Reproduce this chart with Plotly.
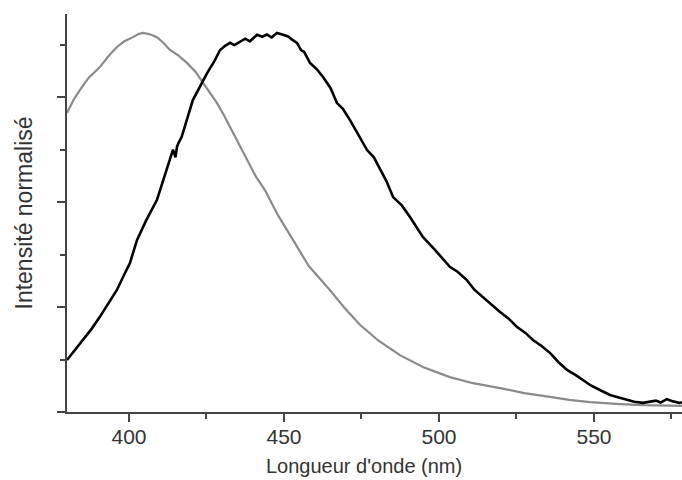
import plotly.graph_objects as go

# gray spectrum (wavelength nm, normalised intensity)
gray_nm = [380.0, 382.0, 384.2, 387.0, 390.6, 393.5, 396.1, 398.5, 401.3, 403.0, 404.5, 406.5,
           409.0, 411.0, 413.2, 416.0, 418.7, 421.5, 423.9, 426.0, 428.4, 430.5, 432.6, 435.5,
           438.1, 441.0, 443.9, 448.0, 452.9, 458.0, 464.8, 469.5, 474.5, 480.5, 487.4, 495.0,
           503.5, 511.0, 519.7, 527.5, 535.8, 542.0, 548.7, 553.5, 558.4, 566.0, 572.0, 578.4]
gray_int = [0.789, 0.822, 0.850, 0.882, 0.910, 0.940, 0.963, 0.978, 0.989, 0.997, 1.000, 0.997,
            0.989, 0.975, 0.955, 0.940, 0.921, 0.897, 0.868, 0.843, 0.815, 0.785, 0.752, 0.708,
            0.665, 0.620, 0.585, 0.520, 0.454, 0.385, 0.322, 0.275, 0.230, 0.188, 0.150, 0.118,
            0.092, 0.076, 0.063, 0.050, 0.040, 0.032, 0.026, 0.023, 0.021, 0.018, 0.017, 0.016]

# black spectrum
black_nm = [380.0, 382.5, 385.2, 388.0, 390.6, 393.3, 396.1, 398.2, 400.3, 402.6, 405.5, 409.0,
            411.5, 414.2, 415.0, 415.5, 416.0, 417.0, 420.6, 423.0, 425.2, 427.5, 429.4, 431.0,
            432.6, 434.0, 435.8, 437.5, 439.0, 441.3, 443.0, 444.5, 446.0, 447.7, 449.7, 451.5,
            452.5, 454.2, 455.5, 456.5, 458.4, 460.5, 462.6, 465.0, 467.1, 469.0, 471.3, 474.0,
            476.8, 479.0, 481.0, 483.0, 485.2, 488.0, 490.6, 492.5, 494.8, 499.0, 503.5, 506.0,
            509.0, 511.5, 514.2, 517.0, 519.7, 522.5, 525.2, 528.0, 530.3, 533.0, 535.8, 538.5,
            541.3, 544.0, 546.5, 549.0, 551.9, 553.5, 555.2, 558.0, 560.6, 563.0, 565.8, 568.0,
            570.0, 571.5, 573.5, 575.5, 577.7, 578.4]
black_int = [0.137, 0.162, 0.190, 0.220, 0.251, 0.285, 0.322, 0.358, 0.393, 0.454, 0.505, 0.559,
             0.625, 0.692, 0.672, 0.700, 0.710, 0.726, 0.823, 0.860, 0.894, 0.925, 0.955, 0.966,
             0.974, 0.968, 0.976, 0.985, 0.978, 0.995, 0.990, 0.996, 0.988, 1.000, 0.995, 0.990,
             0.983, 0.974, 0.955, 0.950, 0.921, 0.905, 0.884, 0.855, 0.815, 0.800, 0.770, 0.730,
             0.691, 0.672, 0.639, 0.610, 0.567, 0.545, 0.515, 0.490, 0.462, 0.425, 0.383, 0.370,
             0.348, 0.322, 0.303, 0.282, 0.264, 0.246, 0.224, 0.208, 0.190, 0.175, 0.156, 0.132,
             0.111, 0.098, 0.084, 0.070, 0.058, 0.052, 0.045, 0.038, 0.032, 0.027, 0.024, 0.027,
             0.030, 0.025, 0.034, 0.028, 0.024, 0.026]

AXIS = '#444444'
TEXT = '#333333'
FONT = 'Liberation Sans, Arial, sans-serif'

fig = go.Figure()
fig.add_trace(go.Scatter(x=gray_nm, y=gray_int, mode='lines',
                         line=dict(color='#8a8a8a', width=2.2), showlegend=False))
fig.add_trace(go.Scatter(x=black_nm, y=black_int, mode='lines',
                         line=dict(color='#000000', width=2.6), showlegend=False))

fig.update_xaxes(range=[380, 578.4], showgrid=False, zeroline=False,
                 showline=True, linecolor=AXIS, linewidth=1.5,
                 ticks='outside', ticklen=8, tickwidth=1.5, tickcolor=AXIS,
                 tick0=400, dtick=50, ticklabelstandoff=-3,
                 minor=dict(ticks='outside', ticklen=5, tickwidth=1.5, tickcolor=AXIS, dtick=25, tick0=400),
                 tickfont=dict(size=21, color=TEXT, family=FONT))
fig.update_yaxes(range=[0, 1.05], showgrid=False, zeroline=False,
                 showline=True, linecolor=AXIS, linewidth=1.5,
                 ticks='outside', ticklen=8, tickwidth=1.5, tickcolor=AXIS,
                 tick0=0, dtick=0.2767, showticklabels=False,
                 minor=dict(ticks='outside', ticklen=5, tickwidth=1.5, tickcolor=AXIS, dtick=0.13834, tick0=0),
                 title=dict(text='Intensité normalisé', font=dict(size=23, color=TEXT, family=FONT),
                            standoff=18))

# x title sits a little left of the plot centre in the original
fig.add_annotation(text="Longueur d'onde (nm)", xref='paper', yref='paper',
                   x=0.483, y=-0.135, xanchor='center', yanchor='middle', showarrow=False,
                   font=dict(size=20, color=TEXT, family=FONT))

fig.update_layout(
    width=682, height=480,
    margin=dict(l=67, r=0, t=14, b=68, autoexpand=False),
    paper_bgcolor='white', plot_bgcolor='white',
    font=dict(family=FONT),
)

# drop the default page margin so the figure sits at the window origin
fig.write_html("out.html", config={'displayModeBar': False},
               post_script="document.body.style.margin='0';document.body.style.overflow='hidden';")
